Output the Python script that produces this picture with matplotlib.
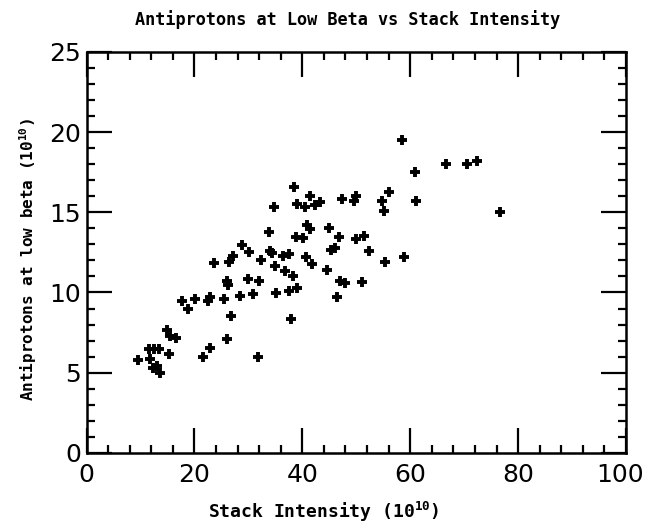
import matplotlib
matplotlib.use("Agg")
import matplotlib.pyplot as plt
import matplotlib.transforms as mtransforms
from matplotlib.ticker import MultipleLocator

stack_intensity = [
    34.8, 33.9, 34.0, 34.3, 35.0, 28.9, 30.2, 27.2, 26.4, 23.7,
    32.4, 29.9, 32.0, 26.0, 26.2, 35.2, 30.8, 28.5, 25.5, 22.9,
    22.5, 20.1, 17.7, 18.8, 26.8, 15.0, 15.5, 16.5, 26.1, 22.9,
    11.5, 12.5, 13.45, 15.2, 21.5, 31.8, 9.6, 11.8, 12.4, 13.1,
    13.6, 66.7, 70.5, 72.3, 76.7, 58.5, 60.9, 61.1, 56.0, 54.8,
    55.2, 49.9, 49.5, 47.4, 38.4, 41.5, 39.0, 40.5, 42.4, 43.2,
    40.9, 41.5, 44.9, 38.9, 40.1, 46.8, 50.0, 51.4, 52.3, 45.4,
    46.1, 36.5, 37.6, 40.7, 41.8, 36.8, 38.2, 44.6, 55.3, 58.8,
    47.0, 48.0, 51.1, 37.6, 39.0, 46.4, 37.9,
]
antiprotons = [
    15.35, 13.75, 12.6, 12.45, 11.66, 12.97, 12.5, 12.3, 11.9, 11.83,
    12.04, 10.87, 10.73, 10.73, 10.45, 9.94, 9.9, 9.79, 9.58, 9.73,
    9.48, 9.62, 9.48, 8.96, 8.54, 7.64, 7.29, 7.19, 7.12, 6.56,
    6.5, 6.5, 6.5, 6.14, 5.98, 6.0, 5.79, 5.87, 5.31, 5.41,
    5.0, 17.98, 18.0, 18.17, 15.04, 19.48, 17.5, 15.73, 16.25, 15.69,
    15.1, 16.0, 15.73, 15.83, 16.56, 16.04, 15.52, 15.31, 15.46, 15.62,
    14.2, 13.96, 14.02, 13.44, 13.37, 13.44, 13.33, 13.54, 12.6, 12.64,
    12.75, 12.29, 12.4, 12.19, 11.77, 11.35, 11.04, 11.41, 11.88, 12.19,
    10.73, 10.62, 10.67, 10.1, 10.25, 9.73, 8.33,
]

title = "Antiprotons at Low Beta vs Stack Intensity"
xlabel = "Stack Intensity (10$^{10}$)"
ylabel = "Antiprotons at low beta (10$^{10}$)"
x_ticks = [0, 20, 40, 60, 80, 100]
y_ticks = [0, 5, 10, 15, 20, 25]

plt.rcParams['font.family'] = ['DejaVu Sans']
plt.rcParams['mathtext.default'] = 'regular'

W, H = 646, 523
fig = plt.figure(figsize=(W / 100, H / 100), dpi=100)
ax = fig.add_axes([0.134, 0.134, 0.835, 0.767])

ax.plot(stack_intensity, antiprotons, linestyle='none', marker='+',
        markersize=7.5, markeredgewidth=2.8, color='black')

ax.set_xlim(0, 100)
ax.set_ylim(0, 25)
ax.set_xticks(x_ticks)
ax.set_yticks(y_ticks)
ax.xaxis.set_minor_locator(MultipleLocator(4))
ax.yaxis.set_minor_locator(MultipleLocator(1))
ax.tick_params(which='both', direction='in', top=True, right=True, width=1.6)
ax.tick_params(which='major', length=18, labelsize=18)
ax.tick_params(axis='x', which='major', pad=7)
ax.tick_params(axis='y', which='major', pad=4)
ax.tick_params(which='minor', length=6)
for s in ax.spines.values():
    s.set_linewidth(1.8)

# nudge the last x tick label so it stays inside the figure
fig.canvas.draw()
shift = mtransforms.ScaledTranslation(-6 / 100, 0, fig.dpi_scale_trans)
for lab in ax.get_xticklabels():
    if lab.get_text() == '100':
        lab.set_transform(lab.get_transform() + shift)

mono = 'DejaVu Sans Mono'
fig.text(348 / W, 1 - 20 / H, title, ha='center', va='center',
         fontsize=12.2, fontweight='bold', family=mono)
fig.text(324 / W, 1 - 512 / H, xlabel, ha='center', va='center',
         fontsize=13, fontweight='bold', family=mono)
fig.text(28 / W, 1 - 260 / H, ylabel, ha='center', va='center', rotation=90,
         fontsize=11.5, fontweight='bold', family=mono)

fig.savefig("out.png", dpi=100)
